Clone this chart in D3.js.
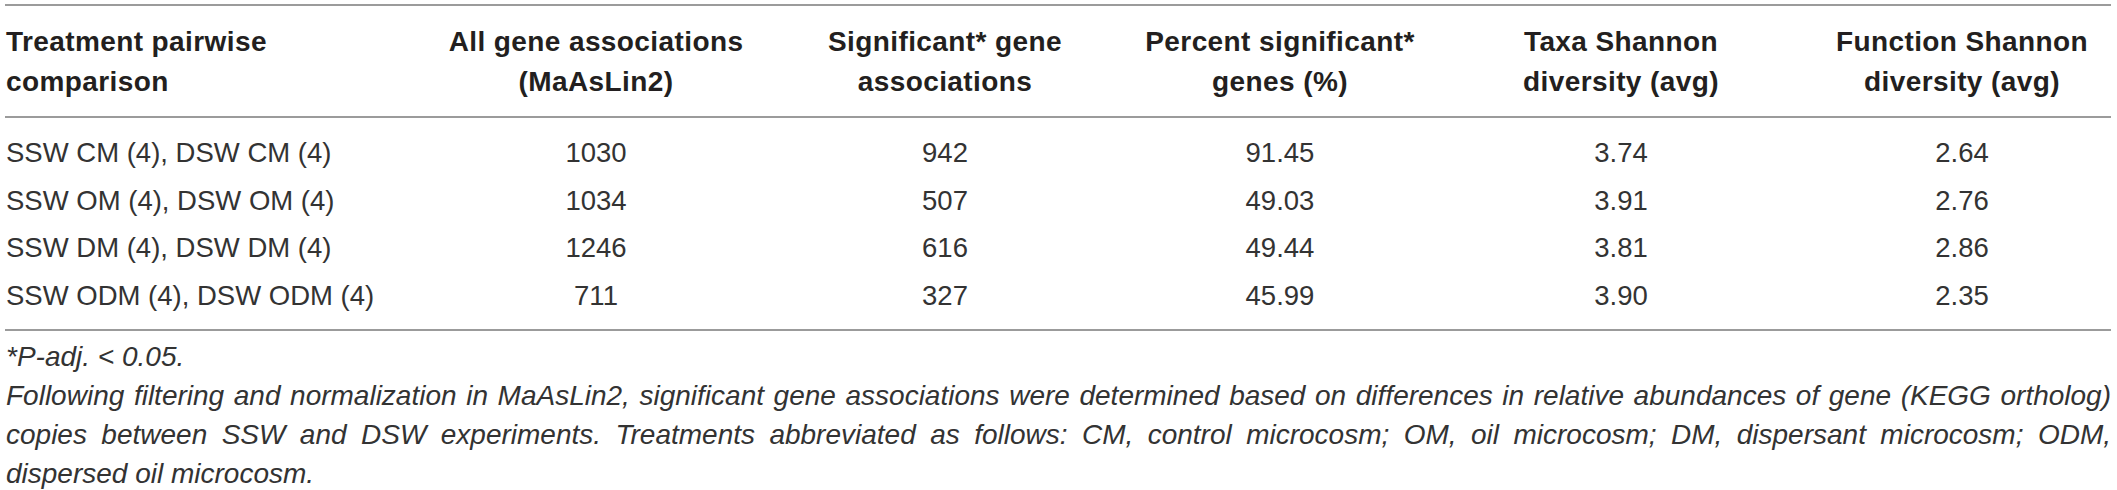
<!DOCTYPE html>
<html>
<head>
<meta charset="utf-8">
<script src="https://cdn.jsdelivr.net/npm/d3@7"></script>
<style>
  body { margin: 0; background: #fff; }
  .head { font-family: "Liberation Sans", Arial, sans-serif; font-weight: bold; font-size: 28px; letter-spacing: 0.4px; fill: #231f20; }
  .cell { font-family: "Liberation Sans", Arial, sans-serif; font-size: 27.5px; fill: #333; }
  .note { font-family: "Liberation Sans", Arial, sans-serif; font-style: italic; font-size: 28px; fill: #333; }
  .rule { stroke: #7a7a7a; stroke-width: 1.6; }
</style>
</head>
<body>
<div class="chart"></div>
<script>
// ============================================================================
// Data
// ============================================================================

var comparisons = [
  'SSW CM (4), DSW CM (4)',
  'SSW OM (4), DSW OM (4)',
  'SSW DM (4), DSW DM (4)',
  'SSW ODM (4), DSW ODM (4)'
];
var allGenes = [1030, 1034, 1246, 711];
var sigGenes = [942, 507, 616, 327];
var pctSig = [91.45, 49.03, 49.44, 45.99];
var taxaShannon = [3.74, 3.91, 3.81, 3.90];
var funcShannon = [2.64, 2.76, 2.86, 2.35];

var headers = [
  ['Treatment pairwise', 'comparison'],
  ['All gene associations', '(MaAsLin2)'],
  ['Significant* gene', 'associations'],
  ['Percent significant*', 'genes (%)'],
  ['Taxa Shannon', 'diversity (avg)'],
  ['Function Shannon', 'diversity (avg)']
];

var footnotes = [
  '*P-adj. < 0.05.',
  'Following filtering and normalization in MaAsLin2, significant gene associations were determined based on differences in relative abundances of gene (KEGG ortholog)',
  'copies between SSW and DSW experiments. Treatments abbreviated as follows: CM, control microcosm; OM, oil microcosm; DM, dispersant microcosm; ODM,',
  'dispersed oil microcosm.'
];
// which footnote lines are justified to full width
var justified = [false, true, true, false];

// ============================================================================
// Create SVG
// ============================================================================

var svgWidth = 2117;
var svgHeight = 490;
var left = 6;
var right = 2111;

var svg = d3.select('.chart')
  .append('svg')
  .attr('width', svgWidth)
  .attr('height', svgHeight);

// column centres (first column is left aligned)
var colX = d3.scaleOrdinal()
  .domain(d3.range(6))
  .range([left, 596, 945, 1280, 1621, 1962]);

// row baselines
var rowY = d3.scalePoint()
  .domain(d3.range(comparisons.length))
  .range([162, 305]);

var headY = d3.scalePoint().domain([0, 1]).range([51, 91]);
var noteY = d3.scalePoint().domain(d3.range(footnotes.length)).range([366, 483]);

// ============================================================================
// Rules
// ============================================================================

[5, 117, 330].forEach(function(y) {
  svg.append('line')
    .attr('class', 'rule')
    .attr('x1', 5).attr('x2', right)
    .attr('y1', y).attr('y2', y);
});

// ============================================================================
// Header
// ============================================================================

headers.forEach(function(lines, c) {
  svg.selectAll(null)
    .data(lines)
    .enter()
      .append('text')
      .attr('class', 'head')
      .attr('x', colX(c))
      .attr('y', (d, i) => headY(i))
      .attr('text-anchor', c === 0 ? 'start' : 'middle')
      .text(d => d);
});

// ============================================================================
// Body
// ============================================================================

var fmt2 = d3.format('.2f');
var columns = [
  comparisons,
  allGenes.map(d3.format('d')),
  sigGenes.map(d3.format('d')),
  pctSig.map(fmt2),
  taxaShannon.map(fmt2),
  funcShannon.map(fmt2)
];

columns.forEach(function(values, c) {
  svg.selectAll(null)
    .data(values)
    .enter()
      .append('text')
      .attr('class', 'cell')
      .attr('x', colX(c))
      .attr('y', (d, i) => rowY(i))
      .attr('text-anchor', c === 0 ? 'start' : 'middle')
      .text(d => d);
});

// ============================================================================
// Footnotes
// ============================================================================

svg.selectAll(null)
  .data(footnotes)
  .enter()
    .append('text')
    .attr('class', 'note')
    .attr('x', left)
    .attr('y', (d, i) => noteY(i))
    .text(d => d)
    .each(function(d, i) {
      if (!justified[i]) return;
      // spread the spare width over the word gaps
      var natural = this.getComputedTextLength();
      var gaps = d.split(' ').length - 1;
      var extra = (right - left - natural) / gaps;
      d3.select(this).attr('word-spacing', extra);
    });
</script>
</body>
</html>
